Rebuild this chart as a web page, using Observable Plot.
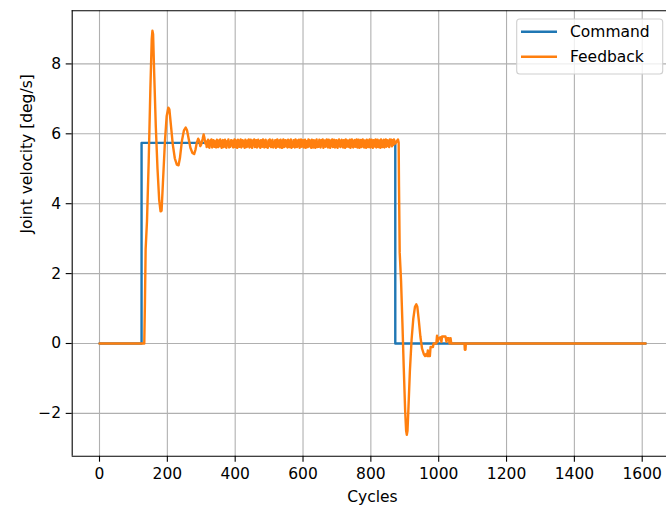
<!DOCTYPE html>
<html><head><meta charset="utf-8">
<script src="https://cdn.jsdelivr.net/npm/d3@7"></script>
<script src="https://cdn.jsdelivr.net/npm/@observablehq/plot@0.6"></script>
<style>
html,body{margin:0;padding:0;background:#fff;overflow:hidden;}
</style></head><body><div id="chart"></div>
<script>
const xTicks = [0, 200, 400, 600, 800, 1000, 1200, 1400, 1600];
const yTicks = [-2, 0, 2, 4, 6, 8];
const seriesNames = ["Command", "Feedback"];
const seriesColors = ["#1f77b4", "#ff7f0e"];

// Command: [cycle, deg/s]
const commandPoints = [[0,0],[124,0],[124,5.74],[872,5.74],[872,0],[1610,0]];

// Feedback: start-up transient
const feedbackUp = [[0,0],[132,0],[134,1.2],[136,2.7],[140,3.5],[145,5.2],[150,7.3],[154,8.7],[156,8.95],[158,8.85],[161,7.8],[166,6.2],[171,5.0],[176,4.1],[180,3.78],[183,3.8],[187,4.6],[193,5.8],[198,6.5],[203,6.75],[206,6.7],[210,6.3],[216,5.7],[222,5.3],[228,5.12],[233,5.1],[237,5.3],[243,5.8],[249,6.1],[254,6.18],[258,6.1],[263,5.85],[268,5.6],[274,5.45],[279,5.42],[283,5.55],[287,5.75],[291,5.86],[294,5.8],[297,5.65],[300,5.7],[304,5.85],[307,5.98],[309,5.9],[312,5.72]];

// Feedback: steady-state samples (every 2 cycles from cycle 314)
const feedbackNoiseStart = 314, feedbackNoiseStep = 2;
const feedbackNoise = [
5.78,5.62,5.71,5.83,5.64,5.60,5.80,5.68,5.84,5.61,5.75,5.82,5.63,5.79,5.66,5.61,5.83,5.70,5.62,5.81,
5.65,5.84,5.73,5.60,5.77,5.82,5.62,5.69,5.83,5.64,5.60,5.79,5.72,5.84,5.61,5.76,5.63,5.82,5.67,5.80,
5.61,5.74,5.84,5.62,5.81,5.66,5.60,5.83,5.70,5.63,5.80,5.84,5.61,5.68,5.82,5.64,5.78,5.60,5.83,5.72,
5.62,5.80,5.65,5.84,5.61,5.77,5.83,5.63,5.60,5.81,5.69,5.84,5.62,5.75,5.82,5.61,5.66,5.83,5.64,5.79,
5.60,5.82,5.71,5.63,5.84,5.67,5.61,5.80,5.83,5.62,5.74,5.60,5.81,5.65,5.84,5.70,5.62,5.79,5.83,5.61,
5.76,5.64,5.82,5.60,5.73,5.84,5.63,5.68,5.81,5.61,5.83,5.66,5.60,5.78,5.84,5.62,5.71,5.82,5.64,5.80,
5.61,5.83,5.69,5.62,5.80,5.84,5.60,5.75,5.63,5.82,5.67,5.61,5.84,5.72,5.62,5.81,5.65,5.83,5.60,5.78,
5.84,5.63,5.70,5.82,5.61,5.66,5.83,5.60,5.79,5.74,5.62,5.84,5.64,5.81,5.68,5.60,5.83,5.73,5.61,5.82,
5.65,5.60,5.80,5.84,5.62,5.77,5.63,5.83,5.70,5.61,5.82,5.67,5.84,5.60,5.76,5.81,5.63,5.64,5.84,5.69,
5.61,5.83,5.72,5.60,5.81,5.65,5.84,5.62,5.78,5.83,5.61,5.70,5.82,5.63,5.60,5.80,5.84,5.66,5.62,5.79,
5.83,5.64,5.61,5.82,5.74,5.60,5.84,5.68,5.63,5.81,5.77,5.62,5.83,5.60,5.71,5.84,5.65,5.61,5.80,5.82,
5.63,5.73,5.84,5.61,5.66,5.83,5.60,5.79,5.82,5.62,5.69,5.84,5.64,5.61,5.81,5.75,5.60,5.83,5.67,5.62,
5.80,5.84,5.61,5.72,5.83,5.63,5.60,5.82,5.68,5.64,5.84,5.61,5.77,5.83,5.62,5.70,5.81,5.60,5.84,5.65,
5.62,5.79,5.83,5.61,5.74,5.84,5.63,5.82,5.66,5.80,5.62,5.84,5.70,5.83,5.64,5.82,5.68,5.84,5.78,5.72];

// Feedback: stop transient and tail
const feedbackDown = [[876,5.78],[880,5.84],[882,5.75],[883,4.5],[885,2.6],[889,1.8],[893,0.6],[897,-0.7],[901,-1.9],[904,-2.5],[906,-2.61],[908,-2.5],[911,-1.8],[915,-0.8],[920,0.1],[925,0.7],[930,1.05],[934,1.12],[937,1.05],[941,0.7],[946,0.2],[951,-0.15],[956,-0.3],[960,-0.36],[963,-0.3],[966,-0.36],[968,-0.2],[970,-0.36],[974,-0.36],[976,-0.1],[983,-0.1],[985,0],[993,0],[995,0.22],[997,0.05],[1000,0.15],[1005,0.18],[1008,0.05],[1010,0.2],[1020,0.2],[1023,0.05],[1025,0.15],[1030,0.15],[1032,0],[1035,0.15],[1037,0],[1076,0],[1077,-0.18],[1079,-0.18],[1080,0],[1610,0]];

const feedbackPoints = [
  ...feedbackUp,
  ...feedbackNoise.map((v, i) => [feedbackNoiseStart + i * feedbackNoiseStep, v]),
  ...feedbackDown
];

const xMin = -80.5, xMax = 1671.6, yMin = -3.225, yMax = 9.52;
const fmt = d => d < 0 ? "\u2212" + (-d) : String(d);
const font = "DejaVu Sans";
const fs = 15.5;
const lw = 2.4;

const chart = Plot.plot({
  width: 666, height: 505,
  marginLeft: 71.7, marginRight: 0, marginTop: 10.3, marginBottom: 49.3,
  style: {fontFamily: font, fontSize: fs + "px", color: "#000", background: "#fff"},
  x: {domain: [xMin, xMax]},
  y: {domain: [yMin, yMax]},
  marks: [
    Plot.gridX(xTicks, {stroke: "#b0b0b0", strokeOpacity: 1, strokeWidth: 1.1}),
    Plot.gridY(yTicks, {stroke: "#b0b0b0", strokeOpacity: 1, strokeWidth: 1.1}),
    Plot.line(commandPoints, {x: d => d[0], y: d => d[1], stroke: seriesColors[0], strokeWidth: lw}),
    Plot.line(feedbackPoints, {x: d => d[0], y: d => d[1], stroke: seriesColors[1], strokeWidth: lw}),
    Plot.ruleX([xMin], {stroke: "#000", strokeWidth: 1.1}),
    Plot.ruleY([yMin, yMax], {stroke: "#000", strokeWidth: 1.1}),
    Plot.axisX(xTicks, {tickSize: 6, tickPadding: 6, tickFormat: fmt, label: null, fontSize: fs, strokeWidth: 1.1}),
    Plot.axisY(yTicks, {tickSize: 6, tickPadding: 5, tickFormat: fmt, label: null, fontSize: fs, strokeWidth: 1.1}),
    Plot.text(["Cycles"], {frameAnchor: "bottom", dx: 3, dy: 41, lineAnchor: "middle", fontSize: fs, fill: "#000"}),
    Plot.text(["Joint velocity [deg/s]"], {frameAnchor: "left", dx: -44.7, rotate: -90, lineAnchor: "middle", fontSize: fs, fill: "#000"})
  ]
});
document.getElementById("chart").appendChild(chart);

// Legend (upper right)
const svg = d3.select(chart);
const lg = svg.append("g").attr("font-family", font).attr("font-size", fs).attr("text-anchor", "start");
lg.append("rect").attr("x", 516.7).attr("y", 19).attr("width", 146).attr("height", 55)
  .attr("rx", 3).attr("fill", "#fff").attr("fill-opacity", 0.8).attr("stroke", "#d0d0d0").attr("stroke-width", 1.1);
seriesNames.forEach((name, i) => {
  const y = 31.7 + i * 25;
  lg.append("line").attr("x1", 521).attr("x2", 557).attr("y1", y).attr("y2", y)
    .attr("stroke", seriesColors[i]).attr("stroke-width", lw);
  lg.append("text").attr("x", 570).attr("y", y).attr("dy", "0.35em").attr("text-anchor", "start")
    .attr("fill", "#000").text(name);
});
</script></body></html>
